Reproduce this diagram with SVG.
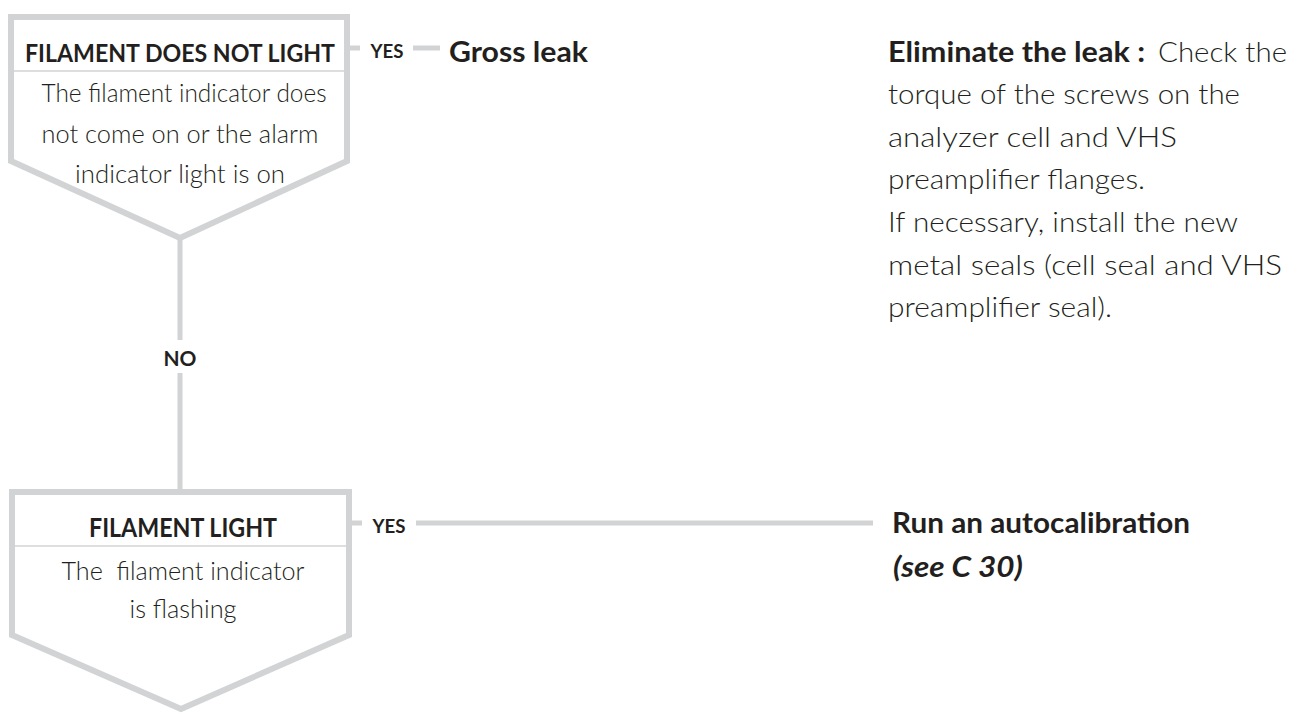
<svg xmlns="http://www.w3.org/2000/svg" width="1292" height="713" viewBox="0 0 1292 713">
<style>
.box{fill:#ffffff;stroke:#d1d3d4;stroke-width:6;stroke-linejoin:miter}
.div{stroke:#d1d3d4;stroke-width:1.5}
.con{stroke:#d1d3d4;stroke-width:5;fill:none}
.b{font-family:Lato,"Liberation Sans",sans-serif;font-weight:700;fill:#231f20}
.l{font-family:Lato,"Liberation Sans",sans-serif;font-weight:300;fill:#231f20}
.i{font-style:italic}
</style>
<rect width="1292" height="713" fill="#ffffff"/>
<g id="connectors">
<line class="con" x1="347" y1="48" x2="360" y2="48"/>
<line class="con" x1="413" y1="48" x2="440" y2="48"/>
<line class="con" x1="180" y1="238" x2="180" y2="340"/>
<line class="con" x1="180" y1="373" x2="180" y2="492"/>
<line class="con" x1="349" y1="523" x2="362" y2="523"/>
<line class="con" x1="416" y1="523" x2="873" y2="523"/>
<text class="b" x="387" y="58" font-size="19" text-anchor="middle" textLength="33" lengthAdjust="spacingAndGlyphs">YES</text>
<text class="b" x="180" y="366" font-size="21" text-anchor="middle" textLength="33" lengthAdjust="spacingAndGlyphs">NO</text>
<text class="b" x="389" y="533" font-size="19" text-anchor="middle" textLength="33" lengthAdjust="spacingAndGlyphs">YES</text>
</g>
<g id="node-filament-does-not-light">
<path class="box" d="M11,17 H347 V161 L180,238 L11,161 Z"/>
<line class="div" x1="14" y1="71" x2="344" y2="71"/>
<text class="b" x="180" y="62" font-size="25" text-anchor="middle" textLength="310" lengthAdjust="spacingAndGlyphs">FILAMENT DOES NOT LIGHT</text>
<text class="l" x="184" y="102" font-size="26" text-anchor="middle" textLength="285" lengthAdjust="spacingAndGlyphs">The filament indicator does</text>
<text class="l" x="180" y="143" font-size="26" text-anchor="middle" textLength="277" lengthAdjust="spacingAndGlyphs">not come on or the alarm</text>
<text class="l" x="180" y="183" font-size="26" text-anchor="middle" textLength="210" lengthAdjust="spacingAndGlyphs">indicator light is on</text>
</g>
<g id="node-gross-leak">
<text class="b" x="449" y="62" font-size="29" textLength="139" lengthAdjust="spacingAndGlyphs">Gross leak</text>
</g>
<g id="node-eliminate">
<text class="b" x="888" y="62" font-size="28" textLength="257" lengthAdjust="spacingAndGlyphs">Eliminate the leak :</text>
<text class="l" x="1158" y="62" font-size="28" textLength="129" lengthAdjust="spacingAndGlyphs">Check the</text>
<text class="l" x="888" y="104" font-size="28" textLength="352" lengthAdjust="spacingAndGlyphs">torque of the screws on the</text>
<text class="l" x="888" y="147" font-size="28" textLength="289" lengthAdjust="spacingAndGlyphs">analyzer cell and VHS</text>
<text class="l" x="888" y="189" font-size="28" textLength="257" lengthAdjust="spacingAndGlyphs">preamplifier flanges.</text>
<text class="l" x="888" y="232" font-size="28" textLength="350" lengthAdjust="spacingAndGlyphs">If necessary, install the new</text>
<text class="l" x="888" y="275" font-size="28" textLength="394" lengthAdjust="spacingAndGlyphs">metal seals (cell seal and VHS</text>
<text class="l" x="888" y="317" font-size="28" textLength="224" lengthAdjust="spacingAndGlyphs">preamplifier seal).</text>
</g>
<g id="node-filament-light">
<path class="box" d="M12,492 H349 V635 L181,709 L12,635 Z"/>
<line class="div" x1="15" y1="546" x2="346" y2="546"/>
<text class="b" x="183" y="537" font-size="26" text-anchor="middle" textLength="188" lengthAdjust="spacingAndGlyphs">FILAMENT LIGHT</text>
<text class="l" x="183" y="580" font-size="26" text-anchor="middle" textLength="243" lengthAdjust="spacingAndGlyphs" xml:space="preserve">The  filament indicator</text>
<text class="l" x="183" y="618" font-size="26" text-anchor="middle" textLength="107" lengthAdjust="spacingAndGlyphs">is flashing</text>
</g>
<g id="node-autocalibration">
<text class="b" x="892" y="533" font-size="28" textLength="298" lengthAdjust="spacingAndGlyphs">Run an autocalibration</text>
<text class="b i" x="893" y="577" font-size="28" textLength="130" lengthAdjust="spacingAndGlyphs">(see C 30)</text>
</g>
</svg>
